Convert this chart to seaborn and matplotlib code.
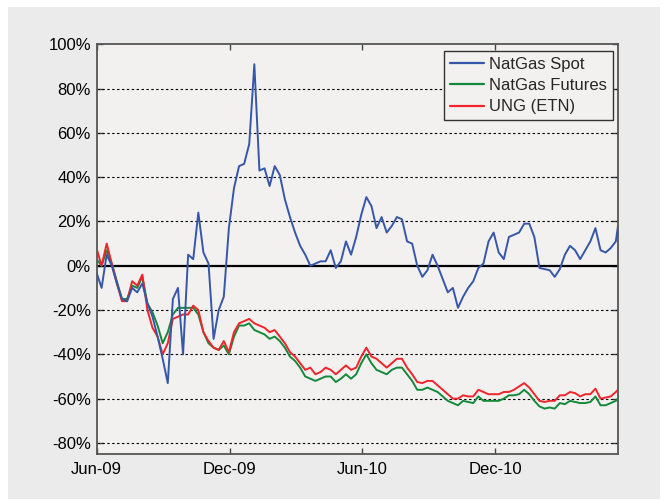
import numpy as np
import pandas as pd
import matplotlib
matplotlib.use("Agg")
import matplotlib.pyplot as plt
import matplotlib.dates as mdates
from matplotlib.ticker import FuncFormatter
from matplotlib.patches import Rectangle
import seaborn as sns

sns.set_theme(style="ticks")
plt.rcParams["font.family"] = ["Liberation Sans", "DejaVu Sans"]
plt.rcParams["axes.unicode_minus"] = False

# ----------------------------------------------------------------------
# DATA (weekly readings, cumulative return in %)
# ----------------------------------------------------------------------
start_date = "2009-06-01"
end_date = "2011-05-19"

spot = [-3, -10, 5, 0, -8, -15, -16, -10, -12, -8,
        -17, -23, -32, -42, -53, -15, -10, -40, 5, 3,
        24, 6, 1, -33, -20, -14, 17, 35, 45, 46,
        55, 91, 43, 44, 36, 45, 41, 30, 22, 15,
        9, 5, 0, 1, 2, 2, 7, -1, 2, 11,
        5, 13, 23, 31, 27, 17, 22, 15, 18, 22,
        21, 11, 10, 0, -5, -2, 5, 0, -6, -12,
        -10, -19, -14, -10, -7, -1, 1, 11, 15, 6,
        3, 13, 14, 15, 19, 19, 13, -1, -1.5, -2,
        -5, -1.5, 5, 9, 7, 3, 7, 11, 17, 7,
        6, 8, 11, 18]

futures = [3, 0, 7, 1, -7, -15, -15, -9, -10, -5,
           -17, -21, -27, -35, -30, -22, -19, -19, -19, -19,
           -22, -30, -35, -37, -38, -36, -40, -32, -27, -27,
           -26, -29, -30, -31, -33, -32, -34, -37, -41, -43,
           -46, -50, -51, -52, -51, -50, -50, -52.5, -51, -49,
           -51, -49, -44, -40, -44, -47, -48, -49, -47, -46,
           -46, -49, -52, -56, -56, -55, -56, -57, -59, -61,
           -62, -63, -61, -61.5, -62, -59, -61, -61, -61, -61,
           -60, -58.5, -58.5, -58, -56, -58, -61, -63.5, -64.5, -64,
           -64.5, -62, -62.5, -61, -61.5, -62, -62, -61.5, -59, -63,
           -63, -62, -61, -60]

ung = [8, 0, 10, 1, -8, -16, -16, -7, -9, -4,
       -20, -28, -32, -40, -35, -24, -23, -22, -22, -18,
       -20, -30, -34, -37, -38, -34, -39, -30, -26, -25,
       -24, -26, -27, -28, -30, -29, -32, -35, -39, -41,
       -44, -47, -46, -49, -48, -46, -47, -49, -47, -45,
       -47, -46, -41, -37, -41, -42, -44, -46, -44, -42,
       -42, -46, -49, -52.5, -53, -52, -52, -54, -56, -58,
       -60, -60, -58.5, -59, -59, -56, -57, -58, -58, -58,
       -57, -57, -56, -54.5, -53, -55, -58, -61, -61.5, -61,
       -61, -58.5, -58.5, -57, -57.5, -59, -58, -58, -55.5, -60,
       -59.5, -59, -57, -56]

series_names = ["NatGas Spot", "NatGas Futures", "UNG (ETN)"]
series_colors = ["#3656a8", "#13893b", "#f0242b"]

dates = list(pd.date_range(start_date, periods=len(spot) - 1, freq="7D")) + [pd.Timestamp(end_date)]
df = pd.DataFrame({"Date": dates, "Spot": spot, "Futures": futures, "UNG": ung})
for col in ["Spot", "Futures", "UNG"]:
    df[col] = df[col] / 100.0


def pct_label(v, pos):
    pct = int(round(v * 100))
    return f"{pct}%"


# ----------------------------------------------------------------------
# PLOT
# ----------------------------------------------------------------------
fig = plt.figure(figsize=(6.67, 5.01), dpi=100, facecolor="white")
bg = Rectangle((8 / 667, 1 - 499 / 501), 652 / 667, 492 / 501,
               transform=fig.transFigure, facecolor="#ebebeb",
               edgecolor="none", zorder=-10)
fig.add_artist(bg)
ax = fig.add_axes([96.5 / 667, 1 - 454 / 501, 521.5 / 667, 409.7 / 501])
ax.set_facecolor("#f2f1f0")

ax.axhline(0, color="black", lw=1.6, zorder=2)
sns.lineplot(data=df, x="Date", y="Spot", color=series_colors[0], lw=1.4,
             label=series_names[0], ax=ax, zorder=5)
sns.lineplot(data=df, x="Date", y="Futures", color=series_colors[1], lw=1.4,
             label=series_names[1], ax=ax, zorder=3)
sns.lineplot(data=df, x="Date", y="UNG", color=series_colors[2], lw=1.4,
             label=series_names[2], ax=ax, zorder=4)

ax.set_xlim(pd.Timestamp(start_date), pd.Timestamp(end_date))
ax.set_ylim(-0.85, 1.0)
ax.set_yticks(np.arange(-0.8, 1.01, 0.2))
ax.yaxis.set_major_formatter(FuncFormatter(pct_label))
ax.set_xticks(pd.to_datetime(["2009-06-01", "2009-12-01", "2010-06-01", "2010-12-01"]))
ax.xaxis.set_major_formatter(mdates.DateFormatter("%b-%y"))
ax.set_xlabel("")
ax.set_ylabel("")

for yv in np.arange(-0.8, 0.81, 0.2):
    if abs(yv) > 1e-6:
        ax.axhline(yv, color="black", lw=0.8, ls=(0, (2.2, 2.2)), zorder=1)

ax.tick_params(axis="both", direction="in", length=4, width=1, colors="#444444",
               labelcolor="black", labelsize=12, top=True, right=True)
ax.tick_params(axis="x", pad=6)
ax.tick_params(axis="y", pad=4)
for sp in ax.spines.values():
    sp.set_color("#555555")
    sp.set_linewidth(1.3)

leg = ax.legend(loc="upper right", bbox_to_anchor=(0.99, 0.984), borderaxespad=0,
                fontsize=12, frameon=True, fancybox=False, framealpha=1,
                facecolor="#f2f1f0", edgecolor="#333333", handlelength=2.05,
                handletextpad=0.3, labelspacing=0.38, borderpad=0.35)
leg.get_frame().set_linewidth(1.0)
for line in leg.get_lines():
    line.set_linewidth(1.6)

fig.savefig("out.png", dpi=100, facecolor="white")
